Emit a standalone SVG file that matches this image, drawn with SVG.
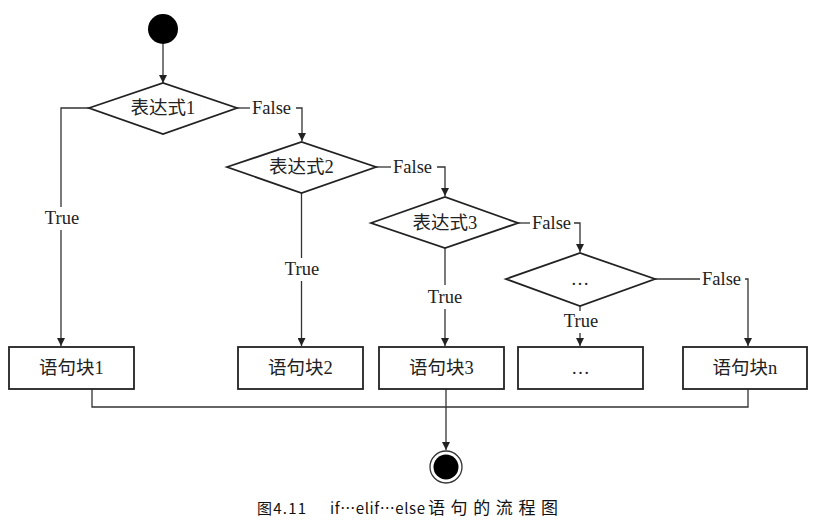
<svg xmlns="http://www.w3.org/2000/svg" width="818" height="532" viewBox="0 0 818 532">
<style>
.shape{fill:#fff;stroke:#222;stroke-width:1.8}
.ln{fill:none;stroke:#333;stroke-width:1.3}
.t{font-family:"Liberation Serif","Noto Sans CJK SC",serif;font-size:18.5px;fill:#222;text-anchor:middle}
.lbl{font-family:"Liberation Serif",serif;font-size:18.5px;fill:#222}
.cap{font-family:"Noto Sans CJK SC",sans-serif;font-size:15px;fill:#111}
</style>
<defs>
<marker id="ah" viewBox="0 0 10 10" refX="10" refY="5" markerWidth="8" markerHeight="8" markerUnits="userSpaceOnUse" orient="auto">
<path d="M0,0 L10,5 L0,10 z" fill="#222"/>
</marker>
</defs>
<rect width="818" height="532" fill="#fff"/>
<g id="connectors">
<path class="ln" d="M163,44 V83" marker-end="url(#ah)"/>
<path class="ln" d="M89,108 H61 V207"/>
<path class="ln" d="M61,230 V346" marker-end="url(#ah)"/>
<path class="ln" d="M237,108 H250"/>
<path class="ln" d="M296,108 H302 V141" marker-end="url(#ah)"/>
<path class="ln" d="M301.5,193 V258"/>
<path class="ln" d="M301.5,281 V346" marker-end="url(#ah)"/>
<path class="ln" d="M376,167 H391"/>
<path class="ln" d="M437,167 H445 V196" marker-end="url(#ah)"/>
<path class="ln" d="M445,248 V285"/>
<path class="ln" d="M445,309 V346" marker-end="url(#ah)"/>
<path class="ln" d="M518,223 H530"/>
<path class="ln" d="M574,223 H580 V252" marker-end="url(#ah)"/>
<path class="ln" d="M580,306 V311"/>
<path class="ln" d="M580,333 V346" marker-end="url(#ah)"/>
<path class="ln" d="M655,279 H700"/>
<path class="ln" d="M745,279 H748 V346" marker-end="url(#ah)"/>
<path class="ln" d="M92,389 V407 H748 V389"/>
<path class="ln" d="M446,389 V450" marker-end="url(#ah)"/>
<text class="lbl" x="62" y="224" text-anchor="middle">True</text>
<text class="lbl" x="302" y="275" text-anchor="middle">True</text>
<text class="lbl" x="445" y="303" text-anchor="middle">True</text>
<text class="lbl" x="581" y="327" text-anchor="middle">True</text>
<text class="lbl" x="252" y="114">False</text>
<text class="lbl" x="393" y="173">False</text>
<text class="lbl" x="532" y="229">False</text>
<text class="lbl" x="702" y="285">False</text>
</g>
<g id="start"><circle cx="163" cy="29" r="15" fill="#000"/></g>
<g id="d1"><polygon class="shape" points="89,108 163,83 237,108 163,134"/><text class="t" x="163" y="114">表达式1</text></g>
<g id="d2"><polygon class="shape" points="227,167 301.5,142 376,167 301.5,193"/><text class="t" x="301.5" y="173">表达式2</text></g>
<g id="d3"><polygon class="shape" points="371,223 445,197 518,223 445,248"/><text class="t" x="445" y="229">表达式3</text></g>
<g id="d4"><polygon class="shape" points="506,279 580,253 655,279 580,306"/><text class="t" x="580" y="285">…</text></g>
<g id="b1"><rect class="shape" x="9" y="347" width="125" height="42"/><text class="t" x="71.5" y="374">语句块1</text></g>
<g id="b2"><rect class="shape" x="238" y="347" width="125" height="42"/><text class="t" x="300.5" y="374">语句块2</text></g>
<g id="b3"><rect class="shape" x="379" y="347" width="125" height="42"/><text class="t" x="441.5" y="374">语句块3</text></g>
<g id="b4"><rect class="shape" x="518" y="347" width="125" height="42"/><text class="t" x="580.5" y="374">…</text></g>
<g id="bn"><rect class="shape" x="683" y="347" width="124" height="42"/><text class="t" x="745" y="374">语句块n</text></g>
<g id="end"><circle cx="446" cy="467" r="16" fill="#fff" stroke="#333" stroke-width="1.3"/><circle cx="446" cy="467" r="12.5" fill="#000"/></g>
<text class="cap" y="514" lang="zh-CN"><tspan x="257" textLength="49" lengthAdjust="spacing">图4.11</tspan><tspan x="330" textLength="95" lengthAdjust="spacing">if…elif…else</tspan><tspan x="428" font-size="17" textLength="130" lengthAdjust="spacing">语句的流程图</tspan></text>
</svg>
